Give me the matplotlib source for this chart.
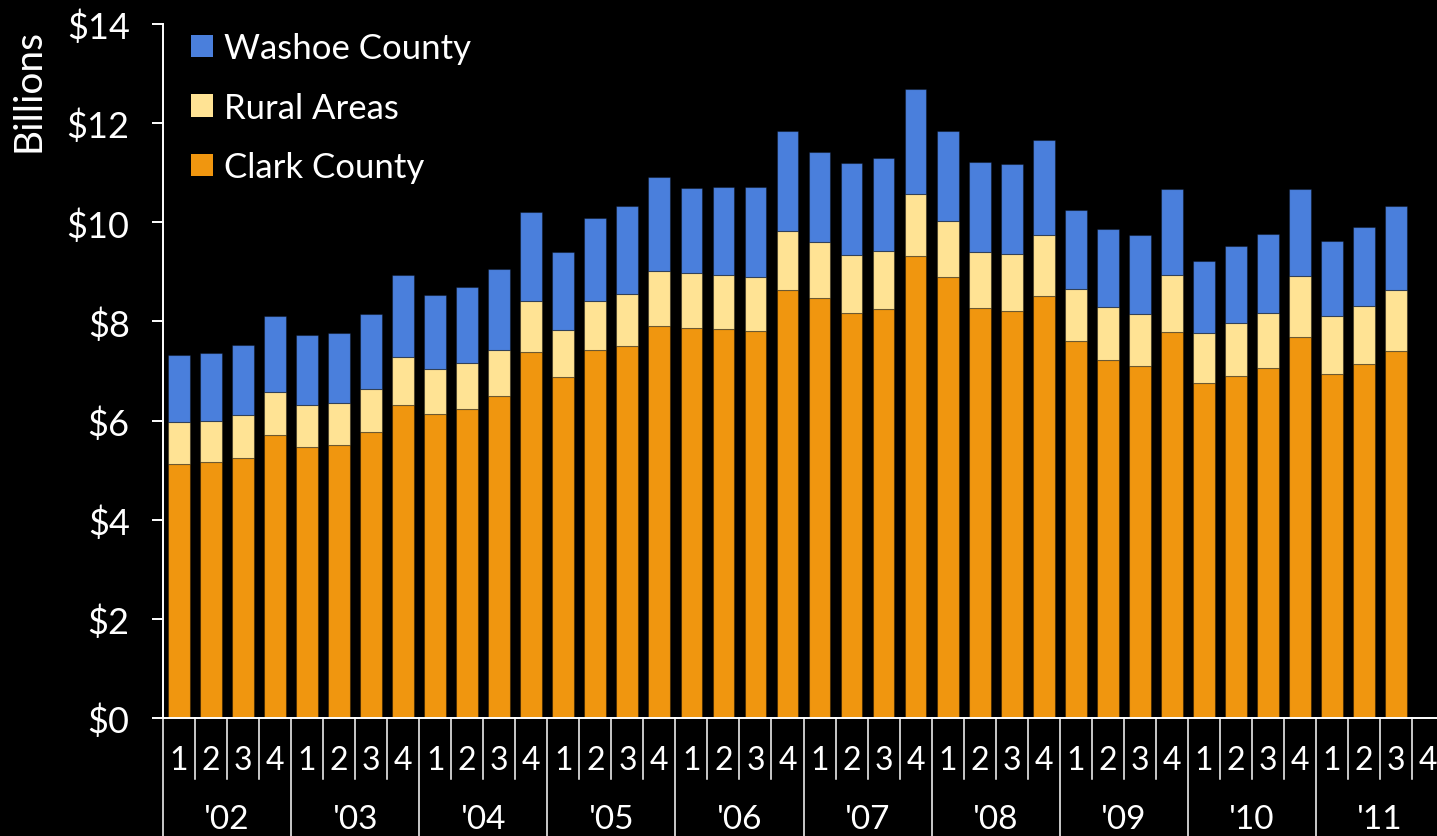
import numpy as np
import matplotlib.pyplot as plt
from matplotlib.patches import Patch
import matplotlib.transforms as mtransforms

plt.rcParams['font.family'] = ['Lato', 'DejaVu Sans']

# quarterly values, $ billions, 2002 Q1 .. 2011 Q3
years = ["'02", "'03", "'04", "'05", "'06", "'07", "'08", "'09", "'10", "'11"]
quarters = ['1', '2', '3', '4']
clark = [5.13, 5.16, 5.25, 5.70, 5.47, 5.51, 5.76, 6.31, 6.13, 6.23, 6.49, 7.38,
         6.87, 7.42, 7.50, 7.90, 7.87, 7.85, 7.80, 8.63, 8.47, 8.16, 8.25, 9.32,
         8.90, 8.27, 8.22, 8.51, 7.61, 7.22, 7.10, 7.79, 6.76, 6.90, 7.07, 7.68,
         6.93, 7.14, 7.40]
rural = [0.85, 0.84, 0.86, 0.88, 0.85, 0.85, 0.88, 0.98, 0.92, 0.93, 0.94, 1.04,
         0.96, 0.99, 1.05, 1.12, 1.11, 1.09, 1.10, 1.20, 1.14, 1.19, 1.18, 1.26,
         1.12, 1.14, 1.15, 1.24, 1.04, 1.07, 1.05, 1.14, 1.01, 1.07, 1.09, 1.24,
         1.17, 1.18, 1.23]
washoe = [1.34, 1.36, 1.41, 1.53, 1.40, 1.41, 1.51, 1.64, 1.48, 1.53, 1.62, 1.79,
          1.57, 1.68, 1.78, 1.89, 1.71, 1.78, 1.81, 2.01, 1.81, 1.84, 1.87, 2.11,
          1.82, 1.80, 1.80, 1.90, 1.59, 1.58, 1.60, 1.74, 1.45, 1.55, 1.61, 1.76,
          1.52, 1.58, 1.70]

c_clark = '#f0960f'
c_rural = '#ffe394'
c_washoe = '#4a7fdc'
edge = (0, 0, 0, 0.35)

n_slots = len(years) * 4
x = np.arange(len(clark))
clark = np.array(clark)
rural = np.array(rural)
washoe = np.array(washoe)

fig = plt.figure(figsize=(14.37, 8.37), dpi=100, facecolor='black')
ax = fig.add_axes([163 / 1437, 118 / 837, 1281 / 1437, 694 / 837])
ax.set_facecolor('black')

w = 0.68
ax.bar(x, clark, w, color=c_clark, edgecolor=edge, linewidth=0.8)
ax.bar(x, rural, w, bottom=clark, color=c_rural, edgecolor=edge, linewidth=0.8)
ax.bar(x, washoe, w, bottom=clark + rural, color=c_washoe, edgecolor=edge, linewidth=0.8)

ax.set_xlim(-0.5, n_slots - 0.5)
ax.set_ylim(0, 14)
ax.set_yticks(np.arange(0, 15, 2))
ax.set_yticklabels(['$%d' % v for v in range(0, 15, 2)])
ax.set_xticks([])
ax.tick_params(axis='y', colors='white', labelsize=26, length=8, width=1.4, pad=16)
for s in ['top', 'right']:
    ax.spines[s].set_visible(False)
for s in ['left', 'bottom']:
    ax.spines[s].set_color('white')
    ax.spines[s].set_linewidth(1.4)
ax.set_ylabel('Billions', color='white', fontsize=28)
ax.yaxis.set_label_coords(-0.091, 0.906)

# category axis: quarter numbers and year groups
trans = mtransforms.blended_transform_factory(ax.transData, ax.transAxes)
q_low = -61 / 694
y_low = -118 / 694
for i in range(n_slots):
    left = i - 0.5
    low = y_low if i % 4 == 0 else q_low
    ax.plot([left, left], [0, low], color='white', lw=1.1, transform=trans, clip_on=False)
    ax.text(i, -0.0735, quarters[i % 4], color='white', fontsize=23, ha='center',
            va='baseline', transform=trans, clip_on=False)
for j, yr in enumerate(years):
    ax.text(j * 4 + 1.5, -0.159, yr, color='white', fontsize=24, ha='center',
            va='baseline', transform=trans, clip_on=False)

handles = [Patch(facecolor=c_washoe), Patch(facecolor=c_rural), Patch(facecolor=c_clark)]
leg = ax.legend(handles, ['Washoe County', 'Rural Areas', 'Clark County'],
                loc='upper left', bbox_to_anchor=(0.022, 0.988), frameon=False,
                fontsize=25, handlelength=0.62, handleheight=0.62, handletextpad=0.33,
                labelspacing=0.79, borderpad=0, borderaxespad=0)
for t in leg.get_texts():
    t.set_color('white')

fig.savefig('out.png', dpi=100, facecolor='black')
